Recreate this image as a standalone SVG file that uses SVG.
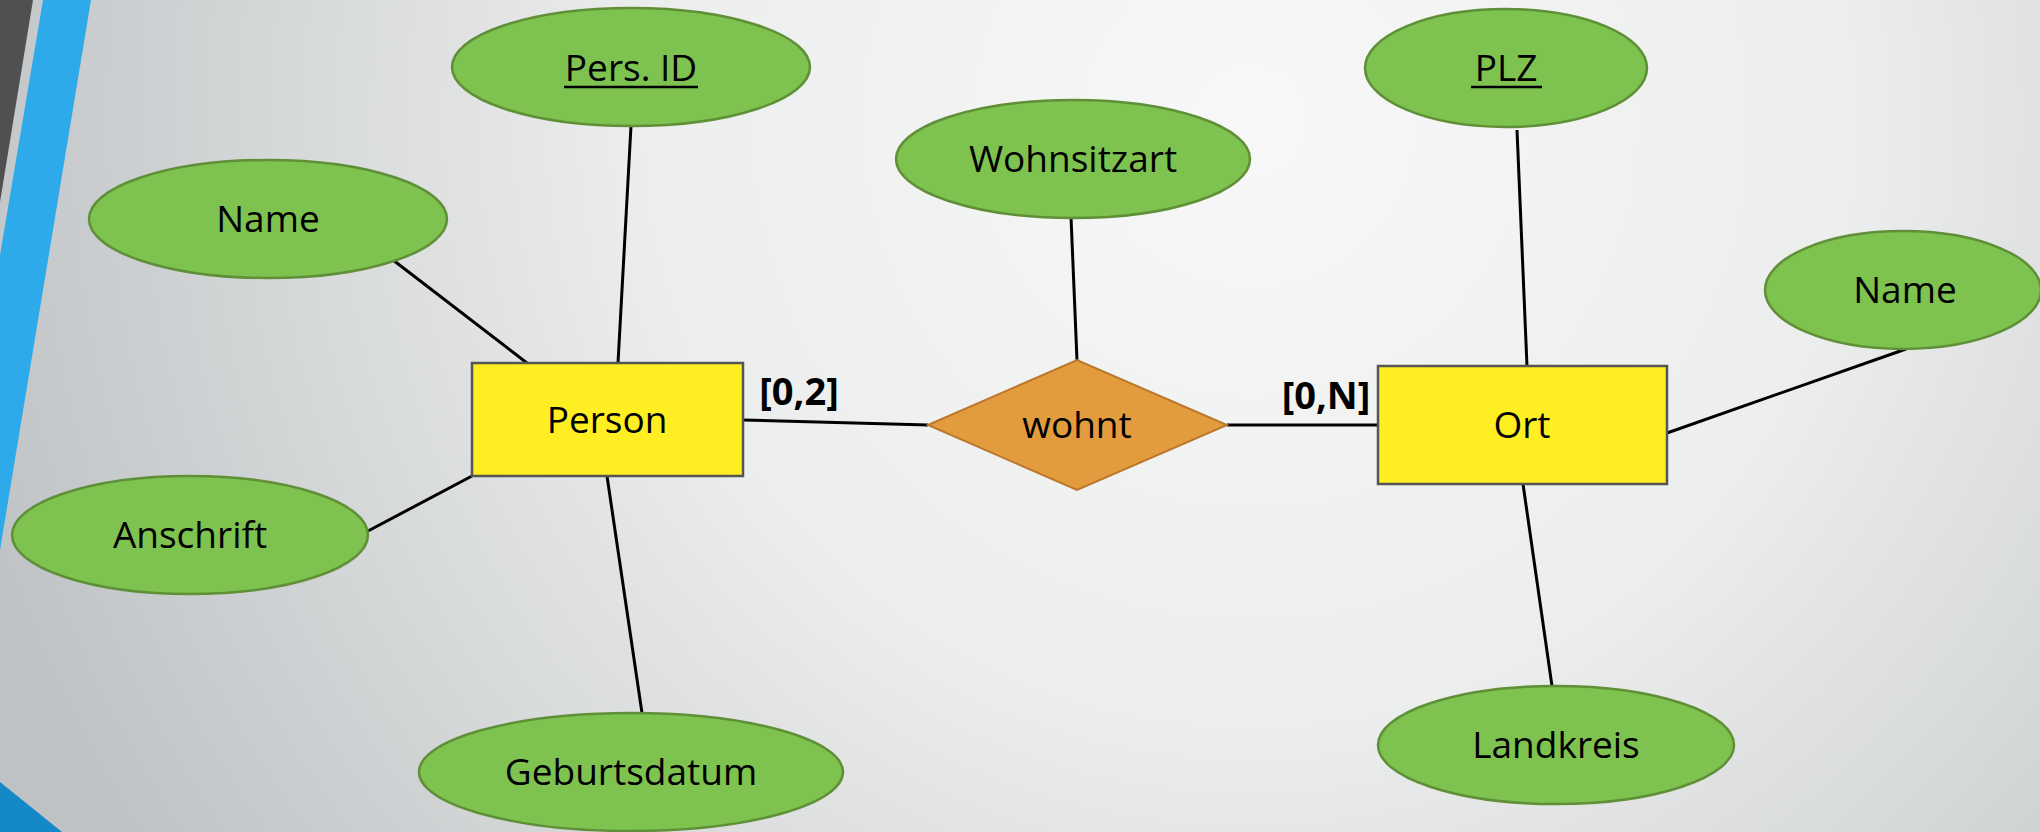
<svg xmlns="http://www.w3.org/2000/svg" width="2040" height="832" viewBox="0 0 2040 832">
<defs>
<radialGradient id="bg" gradientUnits="userSpaceOnUse" cx="1250" cy="120" r="1350" fx="1250" fy="120">
<stop offset="0" stop-color="#f8f8f8"/>
<stop offset="0.45" stop-color="#eceded"/>
<stop offset="1" stop-color="#bec2c4"/>
</radialGradient>
<style>
.attr{fill:#7ec24f;stroke:#5f8f36;stroke-width:2.5}
.ent{fill:#ffee22;stroke:#555;stroke-width:2.5}
.rel{fill:#e29c3e;stroke:#b9782b;stroke-width:2}
.lbl{font-family:"Open Sans","Noto Sans",sans-serif;font-size:37px;fill:#000;text-anchor:middle}
.card{font-family:"Open Sans","Noto Sans",sans-serif;font-size:38px;font-weight:bold;fill:#000;text-anchor:middle}
.ln{stroke:#000;stroke-width:3;fill:none}
</style>
</defs>
<rect width="2040" height="832" fill="url(#bg)"/>
<polygon points="0,0 33,0 0,202" fill="#505050"/>
<polygon points="43,0 91,0 0,550 0,255" fill="#2eaaea"/>
<polygon points="0,782 62,832 0,832" fill="#1589c8"/>
<g id="connectors">
<line class="ln" x1="393" y1="260" x2="527" y2="363"/>
<line class="ln" x1="631" y1="126" x2="618" y2="363"/>
<line class="ln" x1="368" y1="531" x2="472" y2="476"/>
<line class="ln" x1="607" y1="476" x2="642" y2="713"/>
<line class="ln" x1="743" y1="420" x2="928" y2="425"/>
<line class="ln" x1="1227" y1="425" x2="1378" y2="425"/>
<line class="ln" x1="1071" y1="217" x2="1077" y2="360"/>
<line class="ln" x1="1517" y1="130" x2="1527" y2="366"/>
<line class="ln" x1="1667" y1="433" x2="1906" y2="349"/>
<line class="ln" x1="1523" y1="484" x2="1552" y2="686"/>
<text class="card" x="799" y="405">[0,2]</text>
<text class="card" x="1326" y="409">[0,N]</text>
</g>
<g id="persid">
<ellipse class="attr" cx="631" cy="67" rx="179" ry="59"/>
<text class="lbl" x="631" y="81">Pers. ID</text>
<line x1="564" y1="87" x2="698" y2="87" stroke="#000" stroke-width="2.5"/>
</g>
<g id="name-person">
<ellipse class="attr" cx="268" cy="219" rx="179" ry="59"/>
<text class="lbl" x="268" y="232">Name</text>
</g>
<g id="anschrift">
<ellipse class="attr" cx="190" cy="535" rx="178" ry="59"/>
<text class="lbl" x="190" y="548">Anschrift</text>
</g>
<g id="geburtsdatum">
<ellipse class="attr" cx="631" cy="772" rx="212" ry="59"/>
<text class="lbl" x="631" y="785">Geburtsdatum</text>
</g>
<g id="person">
<rect class="ent" x="472" y="363" width="271" height="113"/>
<text class="lbl" x="607" y="433">Person</text>
</g>
<g id="wohnsitzart">
<ellipse class="attr" cx="1073" cy="159" rx="177" ry="59"/>
<text class="lbl" x="1073" y="172">Wohnsitzart</text>
</g>
<g id="wohnt">
<polygon class="rel" points="928,425 1077,360 1227,425 1077,490"/>
<text class="lbl" x="1077" y="438">wohnt</text>
</g>
<g id="plz">
<ellipse class="attr" cx="1506" cy="68" rx="141" ry="59"/>
<text class="lbl" x="1506" y="81">PLZ</text>
<line x1="1471" y1="87" x2="1542" y2="87" stroke="#000" stroke-width="2.5"/>
</g>
<g id="ort">
<rect class="ent" x="1378" y="366" width="289" height="118"/>
<text class="lbl" x="1522" y="438">Ort</text>
</g>
<g id="name-ort">
<ellipse class="attr" cx="1903" cy="290" rx="138" ry="59"/>
<text class="lbl" x="1905" y="303">Name</text>
</g>
<g id="landkreis">
<ellipse class="attr" cx="1556" cy="745" rx="178" ry="59"/>
<text class="lbl" x="1556" y="758">Landkreis</text>
</g>
</svg>
